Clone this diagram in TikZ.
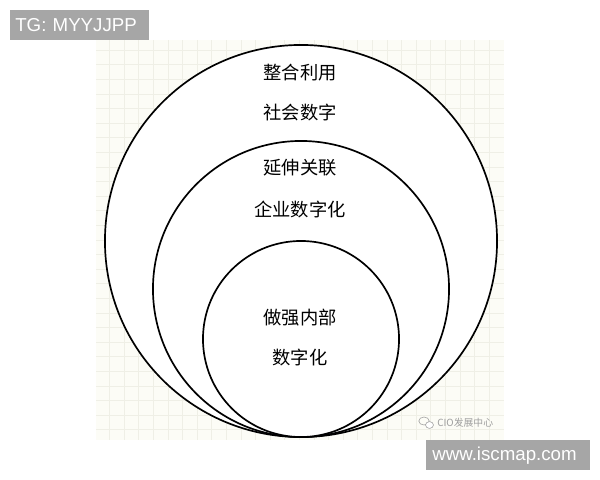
\documentclass[tikz,border=0pt]{standalone}
\usepackage{fontspec}
\setmainfont{Liberation Sans}
\newfontfamily\cjk{Noto Sans CJK SC}
\definecolor{paper}{HTML}{FCFCF6}
\definecolor{gridline}{HTML}{EFEFE6}
\definecolor{tagbox}{HTML}{A6A6A6}
\definecolor{markgray}{HTML}{9E9E9E}

\begin{document}
\begin{tikzpicture}[x=0.025cm,y=-0.025cm,
  ring/.style={black, line width=1.2pt, fill=white},
  ringtext/.style={font=\cjk\fontsize{13}{15}\selectfont},
  tag/.style={fill=tagbox, text=white, font=\fontsize{13.3}{15}\selectfont, anchor=north west, minimum height=0.75cm, inner ysep=0pt, align=left}]
\useasboundingbox (0,0) rectangle (600,480);

% squared paper
\fill[paper] (96,40) rectangle (504,440);
\foreach \gx in {1,...,27}
  \draw[gridline, line width=0.5pt] ({95+14.6*\gx},40) -- ({95+14.6*\gx},440);
\foreach \gy in {0,...,26}
  \draw[gridline, line width=0.5pt] (96,{50.1+14.6*\gy}) -- (504,{50.1+14.6*\gy});

% the three rings
\draw[ring] (301,241) circle[radius=4.9cm];
\draw[ring] (301,289) circle[radius=3.7cm];
\draw[ring] (301,339) circle[radius=2.45cm];

\node[ringtext] (outerA) at (300,73) {整合利用};
\node[ringtext] (outerB) at (300,113) {社会数字};
\node[ringtext] (midA) at (300,168) {延伸关联};
\node[ringtext] (midB) at (300,209) {企业数字化};
\node[ringtext] (innerA) at (300,318) {做强内部};
\node[ringtext] (innerB) at (300,358) {数字化};

% watermark
\draw[markgray, line width=0.4pt] (424,421) ellipse[x radius=0.13cm, y radius=0.1cm];
\draw[markgray, line width=0.4pt, fill=white] (429.5,425) ellipse[x radius=0.1cm, y radius=0.085cm];
\node[markgray, anchor=west, inner sep=0pt, font=\cjk\fontsize{7}{8}\selectfont] (mark) at (437,423) {CIO发展中心};

% tags
\node[tag, inner xsep=0.125cm, text width=3.225cm] (tg) at (10,10) {TG: MYYJJPP};
\node[tag, inner xsep=0.15cm, text width=3.8cm] (site) at (426,440) {www.iscmap.com};

\end{tikzpicture}
\end{document}
